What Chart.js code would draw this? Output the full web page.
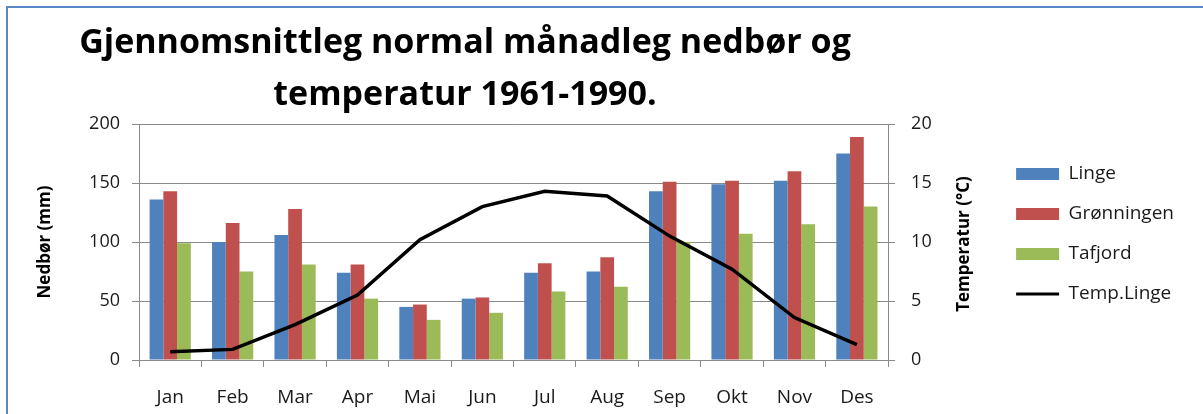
<!DOCTYPE html>
<html>
<head>
<meta charset="utf-8">
<script src="https://cdn.jsdelivr.net/npm/chart.js@4.4.1/dist/chart.umd.min.js"></script>
<style>
  html, body { margin: 0; padding: 0; background: #fff; }
  #wrap { position: relative; width: 1203px; height: 414px; overflow: hidden; }
  #frame {
    position: absolute; left: 6px; top: 6px; width: 1400px; height: 600px;
    border: 2px solid #5b87c6; pointer-events: none;
  }
  canvas { position: absolute; left: 0; top: 0; }
</style>
</head>
<body>
<div id="wrap">
  <canvas id="chart" width="1203" height="414"></canvas>
  <div id="frame"></div>
</div>
<script>
// --- Data ---
const months = ['Jan', 'Feb', 'Mar', 'Apr', 'Mai', 'Jun', 'Jul', 'Aug', 'Sep', 'Okt', 'Nov', 'Des'];
const linge = [136, 100, 106, 74, 45, 52, 74, 75, 143, 149, 152, 175];
const gronningen = [143, 116, 128, 81, 47, 53, 82, 87, 151, 152, 160, 189];
const tafjord = [99, 75, 81, 52, 34, 40, 58, 62, 100, 107, 115, 130];
const tempLinge = [0.7, 0.9, 3.0, 5.5, 10.2, 13.0, 14.3, 13.9, 10.5, 7.7, 3.6, 1.3];

const titleLines = ['Gjennomsnittleg normal månadleg nedbør og', 'temperatur 1961-1990.'];
const leftTitle = 'Nedbør (mm)';
const rightTitle = 'Temperatur (°C)';

const FONT = "'Open Sans', sans-serif";
const GRID = '#8a8a8a';
const TEXT = '#1a1a1a';

// Title and both axis titles are drawn here (the right one reads bottom-to-top like the original)
const titlesPlugin = {
  id: 'titles',
  afterDraw(chart) {
    const { ctx, chartArea } = chart;
    const midY = (chartArea.top + chartArea.bottom) / 2;
    ctx.save();
    ctx.fillStyle = '#000';
    ctx.textAlign = 'center';
    ctx.textBaseline = 'alphabetic';
    ctx.font = "bold 34px " + FONT;
    ctx.fillText(titleLines[0], 465, 53);
    ctx.fillText(titleLines[1], 465, 105);

    ctx.font = "bold 17px " + FONT;
    ctx.textBaseline = 'middle';
    ctx.translate(chartArea.left - 94, midY);
    ctx.rotate(-Math.PI / 2);
    ctx.fillText(leftTitle, 0, 0);
    ctx.restore();

    ctx.save();
    ctx.fillStyle = '#000';
    ctx.font = "bold 17px " + FONT;
    ctx.textAlign = 'center';
    ctx.textBaseline = 'middle';
    ctx.translate(chartArea.right + 76, midY + 2);
    ctx.rotate(-Math.PI / 2);
    ctx.fillText(rightTitle, 0, 0);
    ctx.restore();
  }
};

// nudge the legend block up a little
const legendShift = {
  id: 'legendShift',
  afterLayout(chart) {
    chart.legend.top -= 8;
    chart.legend.bottom -= 8;
  }
};

const ctx = document.getElementById('chart').getContext('2d');
new Chart(ctx, {
  type: 'bar',
  data: {
    labels: months,
    datasets: [
      { label: 'Linge', data: linge, backgroundColor: '#4f81bd', yAxisID: 'y', order: 1 },
      { label: 'Grønningen', data: gronningen, backgroundColor: '#c0504d', yAxisID: 'y', order: 1 },
      { label: 'Tafjord', data: tafjord, backgroundColor: '#9bbb59', yAxisID: 'y', order: 1 },
      {
        type: 'line', label: 'Temp.Linge', data: tempLinge, yAxisID: 'y1', order: 0,
        borderColor: '#000', backgroundColor: '#000', borderWidth: 3.5,
        pointRadius: 0, tension: 0
      }
    ]
  },
  options: {
    responsive: false,
    animation: false,
    layout: { padding: { top: 124, right: 19, bottom: 0, left: 0 } },
    datasets: {
      bar: { categoryPercentage: 0.66, barPercentage: 1.0, borderWidth: 0 }
    },
    scales: {
      x: {
        grid: { drawOnChartArea: false, tickLength: 7, color: GRID, offset: true },
        border: { color: GRID },
        ticks: { color: TEXT, font: { family: FONT, size: 19 }, padding: 19 },
        afterFit(scale) { scale.height = 54; }
      },
      y: {
        position: 'left', min: 0, max: 200,
        grid: { color: GRID, tickLength: 7 },
        border: { color: GRID },
        ticks: { stepSize: 50, color: TEXT, font: { family: FONT, size: 18 }, padding: 12 },
        afterFit(scale) { scale.width = 139; }
      },
      y1: {
        position: 'right', min: 0, max: 20,
        grid: { drawOnChartArea: false, color: GRID, tickLength: 7 },
        border: { color: GRID },
        ticks: { stepSize: 5, color: TEXT, font: { family: FONT, size: 18 }, padding: 16 },
        afterFit(scale) { scale.width = 107; }
      }
    },
    plugins: {
      title: { display: false },
      tooltip: { enabled: false },
      legend: {
        position: 'right',
        align: 'center',
        fullSize: false,
        labels: {
          usePointStyle: true,
          pointStyleWidth: 43,
          boxHeight: 12,
          padding: 21,
          color: TEXT,
          font: { family: FONT, size: 19 },
          sort: (a, b) => a.datasetIndex - b.datasetIndex,
          generateLabels(chart) {
            const items = Chart.defaults.plugins.legend.labels.generateLabels(chart);
            items.forEach(item => {
              const ds = chart.data.datasets[item.datasetIndex];
              item.pointStyle = ds.type === 'line' ? 'line' : 'rect';
              item.lineWidth = ds.type === 'line' ? 3 : 0;
            });
            return items;
          }
        }
      }
    }
  },
  plugins: [titlesPlugin, legendShift]
});
</script>
</body>
</html>
